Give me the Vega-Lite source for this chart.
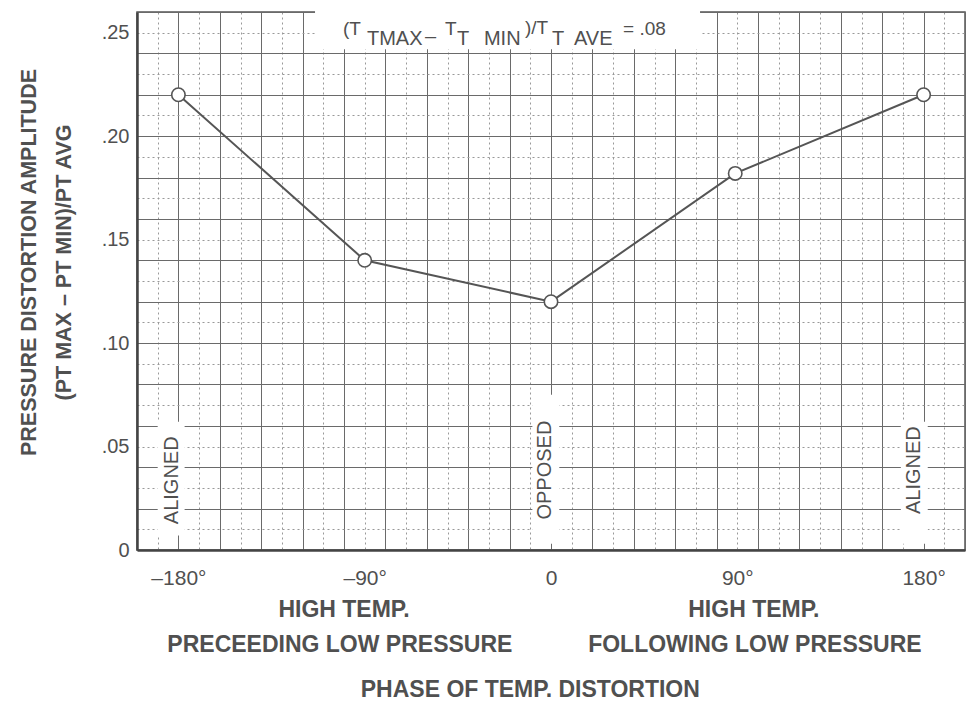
{
  "$schema": "https://vega.github.io/schema/vega-lite/v6.json",
  "width": 828,
  "height": 538,
  "autosize": {"type": "none"},
  "padding": {"left": 137, "top": 12, "right": 5, "bottom": 156},
  "background": "white",
  "config": {
    "view": {"stroke": "#555", "strokeWidth": 1.5},
    "font": "Liberation Sans",
    "text": {"color": "#505050", "font": "Liberation Sans"}
  },
  "datasets": {
    "series": [
      {"x": -180, "y": 0.22},
      {"x": -90, "y": 0.14},
      {"x": 0, "y": 0.12},
      {"x": 89, "y": 0.182},
      {"x": 180, "y": 0.22}
    ],
    "boxes": [
      {"x": -114, "x2": 72, "y": 0.2605, "y2": 0.242},
      {"x": -190, "x2": -177, "y": 0.062, "y2": 0.007},
      {"x": -9, "x2": 4, "y": 0.075, "y2": 0.003},
      {"x": 169, "x2": 182, "y": 0.062, "y2": 0.003}
    ],
    "vlabels": [
      {"x": -183, "y": 0.0337, "label": "ALIGNED"},
      {"x": -3, "y": 0.0386, "label": "OPPOSED"},
      {"x": 175.5, "y": 0.0386, "label": "ALIGNED"}
    ],
    "toptext": [
      {"x": -100.5, "y": 0.2489, "label": "(T", "level": "up"},
      {"x": -88.9, "y": 0.244, "label": "TMAX", "level": "sub"},
      {"x": -60.9, "y": 0.2452, "label": "–", "level": "sub"},
      {"x": -51.2, "y": 0.2489, "label": "T", "level": "up"},
      {"x": -45.4, "y": 0.244, "label": "T", "level": "sub"},
      {"x": -32.4, "y": 0.244, "label": "MIN", "level": "sub"},
      {"x": -12.6, "y": 0.2492, "label": ")/T", "level": "up"},
      {"x": 0.5, "y": 0.244, "label": "T", "level": "sub"},
      {"x": 11.1, "y": 0.244, "label": "AVE", "level": "sub"},
      {"x": 34.8, "y": 0.2489, "label": "= .08", "level": "up"}
    ],
    "bottomtext": [
      {"x": -100, "y": -0.0289, "label": "HIGH TEMP."},
      {"x": 98, "y": -0.0289, "label": "HIGH TEMP."},
      {"x": -102, "y": -0.0458, "label": "PRECEEDING LOW PRESSURE"},
      {"x": 98.5, "y": -0.0458, "label": "FOLLOWING LOW PRESSURE"},
      {"x": -10, "y": -0.0675, "label": "PHASE OF TEMP. DISTORTION"}
    ]
  },
  "layer": [
    {
      "data": {"name": "boxes"},
      "mark": {"type": "rect", "color": "white"},
      "encoding": {
        "x": {
          "field": "x",
          "type": "quantitative",
          "scale": {"domain": [-200, 200], "nice": false, "zero": false},
          "axis": {
            "values": [-200,-190,-180,-170,-160,-150,-140,-130,-120,-110,-100,-90,-80,-70,-60,-50,-40,-30,-20,-10,0,10,20,30,40,50,60,70,80,90,100,110,120,130,140,150,160,170,180,190,200],
            "tickCount": 500,
            "labelExpr": "datum.value == -180 ? '–180°' : datum.value == -90 ? '–90°' : datum.value == 0 ? '0' : datum.value == 90 ? '90°' : datum.value == 180 ? '180°' : ''",
            "ticks": false,
            "domain": true,
            "domainColor": "#444",
            "domainWidth": 2.5,
            "grid": true,
            "gridColor": {"condition": {"test": "datum.value % 20 != 0", "value": "#999"}, "value": "#6a6a6a"},
            "gridDash": {"condition": {"test": "datum.value % 20 != 0", "value": [2, 3]}, "value": []},
            "gridWidth": 1,
            "labelFontSize": 21,
            "labelColor": "#505050",
            "labelPadding": 17,
            "labelOverlap": false,
            "labelFlush": false,
            "title": null
          }
        },
        "x2": {"field": "x2"},
        "y": {
          "field": "y",
          "type": "quantitative",
          "scale": {"domain": [0, 0.26], "nice": false, "zero": false},
          "axis": {
            "values": [0,0.01,0.02,0.03,0.04,0.05,0.06,0.07,0.08,0.09,0.1,0.11,0.12,0.13,0.14,0.15,0.16,0.17,0.18,0.19,0.2,0.21,0.22,0.23,0.24,0.25,0.26],
            "tickCount": 500,
            "labelExpr": "round(datum.value*100) % 5 == 0 ? (datum.value == 0 ? '0' : replace(format(datum.value, '.2f'), '0.', '.')) : ''",
            "ticks": false,
            "domain": true,
            "domainColor": "#444",
            "domainWidth": 2.5,
            "grid": true,
            "gridColor": {"condition": {"test": "round(datum.value*100) % 2 != 0", "value": "#999"}, "value": "#6a6a6a"},
            "gridDash": {"condition": {"test": "round(datum.value*100) % 2 != 0", "value": [2, 3]}, "value": []},
            "gridWidth": 1,
            "labelFontSize": 20,
            "labelColor": "#505050",
            "labelPadding": 8,
            "labelOverlap": false,
            "labelFlush": false,
            "title": ["PRESSURE DISTORTION AMPLITUDE", "(PT MAX – PT MIN)/PT AVG"],
            "titleFontSize": 21.5,
            "titleFontWeight": "bold",
            "titleColor": "#505050",
            "titleLineHeight": 35,
            "titlePadding": 26,
            "titleY": 250
          }
        },
        "y2": {"field": "y2"}
      }
    },
    {
      "data": {"name": "series"},
      "mark": {"type": "line", "color": "#555", "strokeWidth": 2,
        "point": {"filled": true, "fill": "white", "stroke": "#555", "strokeWidth": 1.6, "size": 180, "opacity": 1}},
      "encoding": {
        "x": {"field": "x", "type": "quantitative"},
        "y": {"field": "y", "type": "quantitative"}
      }
    },
    {
      "data": {"name": "vlabels"},
      "mark": {"type": "text", "angle": 270, "fontSize": 20, "align": "center", "baseline": "middle"},
      "encoding": {
        "x": {"field": "x", "type": "quantitative"},
        "y": {"field": "y", "type": "quantitative"},
        "text": {"field": "label"}
      }
    },
    {
      "data": {"name": "toptext"},
      "mark": {"type": "text", "align": "left", "baseline": "alphabetic"},
      "encoding": {
        "x": {"field": "x", "type": "quantitative"},
        "y": {"field": "y", "type": "quantitative"},
        "text": {"field": "label"},
        "size": {"field": "level", "type": "nominal", "scale": {"domain": ["up", "sub"], "range": [19, 20]}, "legend": null}
      }
    },
    {
      "data": {"name": "bottomtext"},
      "mark": {"type": "text", "fontSize": 23, "fontWeight": "bold", "align": "center", "baseline": "middle"},
      "encoding": {
        "x": {"field": "x", "type": "quantitative"},
        "y": {"field": "y", "type": "quantitative"},
        "text": {"field": "label"}
      }
    }
  ]
}
